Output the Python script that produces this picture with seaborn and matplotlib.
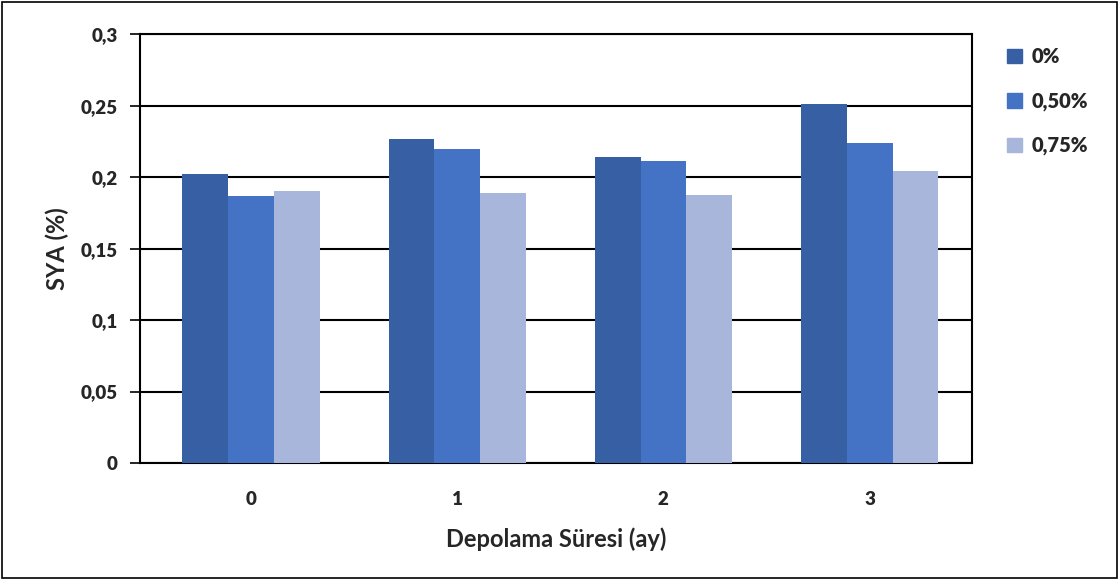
import matplotlib
matplotlib.use("Agg")
import matplotlib.pyplot as plt
import seaborn as sns
import pandas as pd
from matplotlib.patches import Rectangle

# veriler
months = ["0", "1", "2", "3"]
series = ["0%", "0,50%", "0,75%"]
v_0 = [0.202, 0.187, 0.1905]
v_1 = [0.227, 0.2195, 0.189]
v_2 = [0.214, 0.211, 0.1875]
v_3 = [0.251, 0.224, 0.204]
colors = ["#375FA3", "#4472C4", "#A9B6DB"]
yticks = [0, 0.05, 0.1, 0.15, 0.2, 0.25, 0.3]
ytick_labels = ["0", "0,05", "0,1", "0,15", "0,2", "0,25", "0,3"]

rows = []
for m, vals in zip(months, [v_0, v_1, v_2, v_3]):
    for s, v in zip(series, vals):
        rows.append({"ay": m, "seri": s, "SYA": v})
df = pd.DataFrame(rows)

sns.set_style("white")
plt.rcParams["font.family"] = ["Lato", "DejaVu Sans"]
plt.rcParams["font.weight"] = "bold"

fig = plt.figure(figsize=(11.2, 5.8), dpi=100)
ax = fig.add_axes([0.125, 0.2017, 0.743, 0.7393])

sns.barplot(data=df, x="ay", y="SYA", hue="seri", palette=colors,
            width=0.666, saturation=1, ax=ax, legend=False, linewidth=0, zorder=3)

ax.set_xlim(-0.538, 3.497)
ax.set_ylim(0, 0.3)
ax.set_yticks(yticks)
ax.set_yticklabels(ytick_labels, fontsize=13.5, fontweight="heavy")
ax.set_xticks(range(len(months)))
ax.set_xticklabels(months, fontsize=13.5, fontweight="heavy")
ax.yaxis.grid(True, color="black", linewidth=1.5, zorder=0)
ax.set_axisbelow(True)
for sp in ax.spines.values():
    sp.set_color("black")
    sp.set_linewidth(1.5)
ax.tick_params(axis="y", length=7, width=1.2, color="black", left=True, pad=9)
ax.tick_params(axis="x", length=0, pad=20)
ax.set_xlabel("Depolama Süresi (ay)", fontsize=17, fontweight="bold", labelpad=14)
ax.set_ylabel("SYA (%)", fontsize=17, fontweight="bold", labelpad=8)

handles = [Rectangle((0, 0), 1, 1, color=c) for c in colors]
fig.legend(handles, series, loc="upper left", bbox_to_anchor=(0.883, 0.95),
           frameon=False, handlelength=0.75, handleheight=0.75,
           handletextpad=0.45, labelspacing=1.25, prop={"weight": "heavy", "size": 14.5})

fig.patches.append(Rectangle((0.002, 0.003), 0.995, 0.993, transform=fig.transFigure,
                             fill=False, edgecolor="black", linewidth=1.2))

fig.savefig("out.png", dpi=100)
